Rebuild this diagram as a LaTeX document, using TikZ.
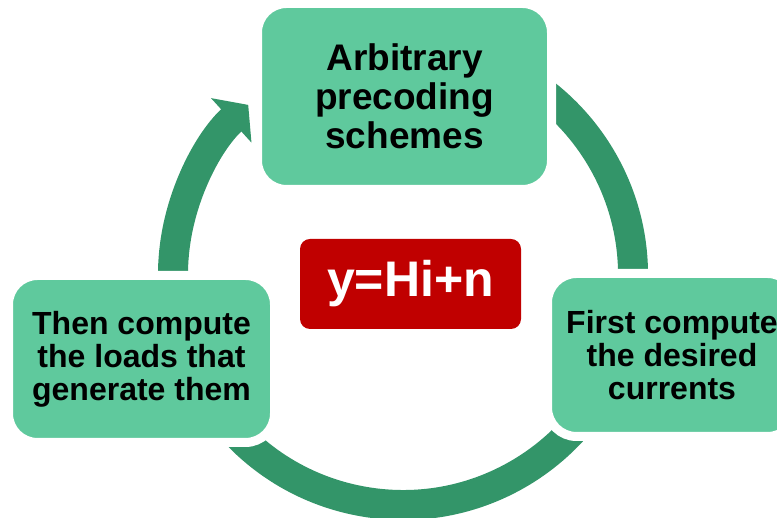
\documentclass[tikz,border=0pt]{standalone}
\usepackage{fontspec}
\setmainfont{Liberation Sans}
\usepackage{xcolor}
\usepackage{tikz}
\usetikzlibrary{positioning,arrows.meta}

\definecolor{stagefill}{HTML}{5FC99D}
\definecolor{ringgreen}{HTML}{339569}
\definecolor{modelred}{HTML}{C00000}

\tikzset{
  stage/.style={rectangle,rounded corners=29pt,fill=stagefill,draw=white,line width=9pt,
    align=center,inner sep=0pt,font=\fontsize{32pt}{33pt}\selectfont\bfseries},
  ring/.style={ringgreen,line width=30pt,-{Triangle[width=59pt,length=23pt]}}
}

\begin{document}
\begin{tikzpicture}[x=1pt,y=1pt]
\clip (0,0) rectangle (777,518);

\coordinate (ctr) at (403,243);
\draw[ring] ([shift={(80:230)}]ctr) arc[start angle=80,end angle=-227.7,radius=230];

\node[stage,minimum width=294pt,minimum height=186pt,font=\fontsize{37pt}{39pt}\selectfont\bfseries] (scheme) at (404.5,421.5) {Arbitrary\\precoding\\schemes};
\node[stage,minimum width=249pt,minimum height=163pt] (currents) at (672,163) {First compute\\the desired\\currents};
\node[stage,minimum width=266pt,minimum height=167pt] (loads) at (141.5,159) {Then compute\\the loads that\\generate them};

\node[rectangle,rounded corners=10pt,fill=modelred,text=white,minimum width=221pt,minimum height=90pt,inner sep=0pt,font=\fontsize{50pt}{55pt}\selectfont\bfseries] (model) at (410.5,234) {y=Hi+n};

\end{tikzpicture}
\end{document}
